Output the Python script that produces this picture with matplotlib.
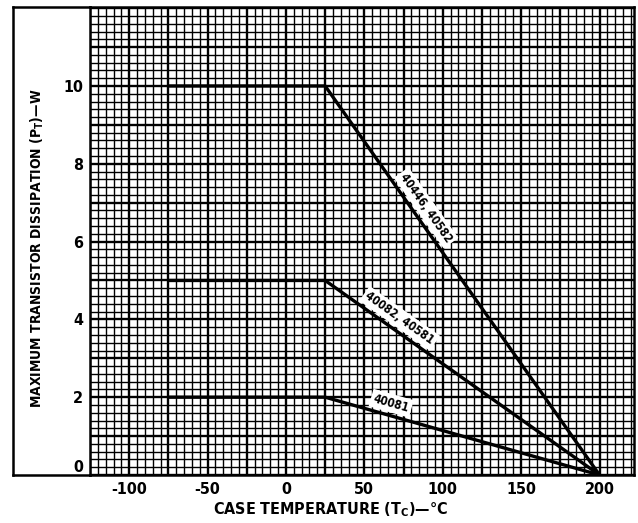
"""Derating curve: maximum transistor dissipation vs case temperature."""
import matplotlib
matplotlib.use("Agg")
import matplotlib.pyplot as plt
from matplotlib.lines import Line2D
import numpy as np

plt.rcParams["font.family"] = ["DejaVu Sans"]
plt.rcParams["font.weight"] = "bold"
plt.rcParams["font.stretch"] = "condensed"
plt.rcParams["mathtext.fontset"] = "custom"
plt.rcParams["mathtext.rm"] = "DejaVu Sans:weight=bold:stretch=condensed"
plt.rcParams["mathtext.it"] = "DejaVu Sans:weight=bold:stretch=condensed"
plt.rcParams["mathtext.bf"] = "DejaVu Sans:weight=bold:stretch=condensed"

# data
temps = [-75, 25, 200]
p_40446 = [10, 10, 0]
p_40082 = [5, 5, 0]
p_40081 = [2, 2, 0]
curve_names = ["40446, 40582", "40082, 40581", "40081"]
x_ticks = [-100, -50, 0, 50, 100, 150, 200]
y_ticks = [0, 2, 4, 6, 8, 10]

W, H = 638, 523
fig = plt.figure(figsize=(W / 100, H / 100), dpi=100)
ax = fig.add_axes([90 / W, (H - 475) / H, 544 / W, 468 / H])
ax.set_xlim(-125, 222)
ax.set_ylim(0, 12.03)

# graph-paper grid
for x in np.arange(-125, 225, 5):
    lw = 1.7 if x % 25 == 0 else 1.0
    ax.axvline(x, color="black", lw=lw, zorder=1)
for y in np.arange(0, 12.01, 0.2):
    lw = 1.7 if abs(y - round(y)) < 1e-6 else 1.0
    ax.axhline(y, color="black", lw=lw, zorder=1)

curves = (p_40446, p_40082, p_40081)
for p in curves:
    ax.plot(temps, p, color="black", lw=2.4, solid_capstyle="butt", zorder=3)

# labels sit on the sloped part, just above the line
label_t = [83, 68, 65]
label_gap = [8.8, 8.8, 8.8]  # points, perpendicular to the line
for name, p, t, gap in zip(curve_names, curves, label_t, label_gap):
    p0 = ax.transData.transform((temps[1], p[1]))
    p1 = ax.transData.transform((temps[2], p[2]))
    ang = np.arctan2(p1[1] - p0[1], p1[0] - p0[0])
    dx, dy = -np.sin(ang) * gap, np.cos(ang) * gap
    ax.annotate(name, xy=(t, np.interp(t, temps, p)), xytext=(dx, dy),
                textcoords="offset points", rotation=np.degrees(ang),
                rotation_mode="anchor", ha="center", va="center",
                fontsize=8.5, fontweight="bold", zorder=4,
                bbox=dict(boxstyle="square,pad=0.22", fc="white", ec="none"))

ax.set_xticks(x_ticks)
ax.set_yticks(y_ticks)
ax.set_xticklabels([str(v) for v in x_ticks])
ax.set_yticklabels([str(v) for v in y_ticks])
ax.tick_params(which="both", length=0, labelsize=11.5, pad=5)
ax.get_yticklabels()[0].set_verticalalignment("bottom")
for sp in ax.spines.values():
    sp.set_linewidth(1.8)

# outer frame around the y-label area
fx0, fx1 = 13 / W, 90 / W
fy0, fy1 = (H - 475) / H, (H - 7) / H
for xs, ys in (([fx0, fx1], [fy1, fy1]), ([fx0, fx1], [fy0, fy0]), ([fx0, fx0], [fy0, fy1])):
    fig.add_artist(Line2D(xs, ys, color="black", lw=1.8, transform=fig.transFigure))

fig.text(331 / W, 1 - 510 / H, r"CASE TEMPERATURE ($T_C$)—°C", ha="center",
         va="center", fontsize=11.5, fontweight="bold")
fig.text(37 / W, 1 - 248 / H, r"MAXIMUM TRANSISTOR DISSIPATION ($P_T$)—W",
         rotation=90, ha="center", va="center", fontsize=10, fontweight="bold")

fig.savefig("out.png", dpi=100)
